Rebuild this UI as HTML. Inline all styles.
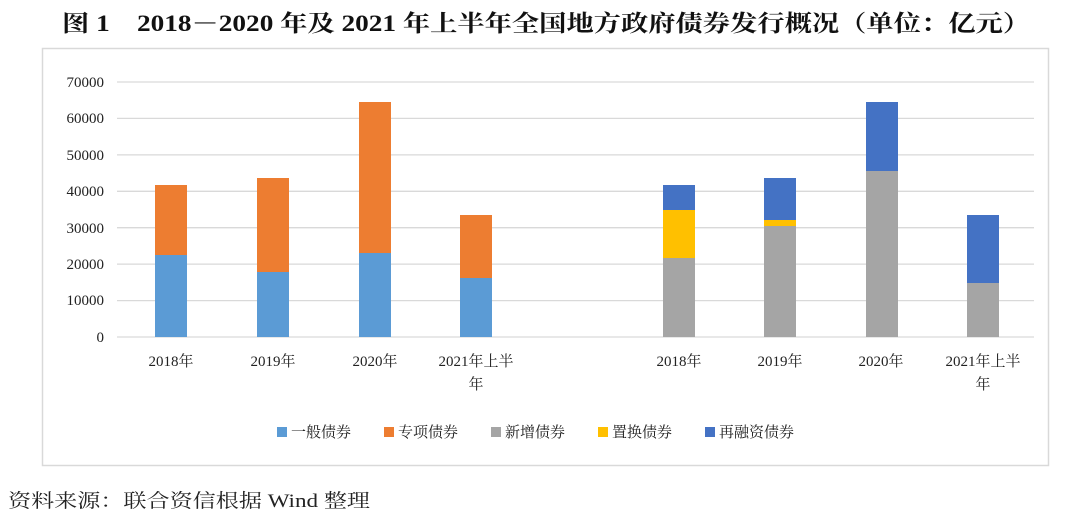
<!DOCTYPE html><html><head><meta charset="utf-8"><style>body{margin:0;background:#fff;width:1080px;height:521px;overflow:hidden}</style></head><body>
<svg width="1080" height="521" xmlns="http://www.w3.org/2000/svg" font-family="'Liberation Serif','Noto Serif CJK SC',serif">
<text x="62" y="31" font-size="23" font-weight="bold" fill="#111" textLength="968" lengthAdjust="spacingAndGlyphs">图 1　2018－2020 年及 2021 年上半年全国地方政府债券发行概况（单位：亿元）</text>
<rect x="42.5" y="48.5" width="1006" height="417" fill="#fff" stroke="#d9d9d9" stroke-width="1.5"/>
<g stroke="#d9d9d9" stroke-width="1.3">
<line x1="117" x2="1034" y1="82" y2="82"/><line x1="117" x2="1034" y1="118.4" y2="118.4"/><line x1="117" x2="1034" y1="154.9" y2="154.9"/><line x1="117" x2="1034" y1="191.3" y2="191.3"/><line x1="117" x2="1034" y1="227.7" y2="227.7"/><line x1="117" x2="1034" y1="264.1" y2="264.1"/><line x1="117" x2="1034" y1="300.6" y2="300.6"/><line x1="117" x2="1034" y1="337" y2="337"/></g>
<g font-size="15" fill="#222" text-anchor="end">
<text x="104" y="87">70000</text><text x="104" y="123">60000</text><text x="104" y="160">50000</text><text x="104" y="196">40000</text><text x="104" y="233">30000</text><text x="104" y="269">20000</text><text x="104" y="305">10000</text><text x="104" y="342">0</text></g>
<rect x="155" y="255" width="32" height="82" fill="#5b9bd5"/><rect x="155" y="185" width="32" height="70" fill="#ed7d31"/>
<rect x="257" y="272" width="32" height="65" fill="#5b9bd5"/><rect x="257" y="178" width="32" height="94" fill="#ed7d31"/>
<rect x="359" y="253" width="32" height="84" fill="#5b9bd5"/><rect x="359" y="102" width="32" height="151" fill="#ed7d31"/>
<rect x="460" y="278" width="32" height="59" fill="#5b9bd5"/><rect x="460" y="215" width="32" height="63" fill="#ed7d31"/>
<rect x="663" y="258" width="32" height="79" fill="#a5a5a5"/><rect x="663" y="210" width="32" height="48" fill="#ffc000"/><rect x="663" y="185" width="32" height="25" fill="#4472c4"/>
<rect x="764" y="226" width="32" height="111" fill="#a5a5a5"/><rect x="764" y="220" width="32" height="6" fill="#ffc000"/><rect x="764" y="178" width="32" height="42" fill="#4472c4"/>
<rect x="866" y="171" width="32" height="166" fill="#a5a5a5"/><rect x="866" y="102" width="32" height="69" fill="#4472c4"/>
<rect x="967" y="283" width="32" height="54" fill="#a5a5a5"/><rect x="967" y="215" width="32" height="68" fill="#4472c4"/>
<g font-size="15" fill="#222" text-anchor="middle">
<text x="171" y="366">2018年</text><text x="273" y="366">2019年</text><text x="375" y="366">2020年</text><text x="476" y="366">2021年上半</text><text x="476" y="389">年</text>
<text x="679" y="366">2018年</text><text x="780" y="366">2019年</text><text x="881" y="366">2020年</text><text x="983" y="366">2021年上半</text><text x="983" y="389">年</text></g>
<g font-size="15" fill="#222">
<rect x="277" y="427" width="10" height="10" fill="#5b9bd5"/><text x="291" y="437">一般债券</text>
<rect x="384" y="427" width="10" height="10" fill="#ed7d31"/><text x="398" y="437">专项债券</text>
<rect x="491" y="427" width="10" height="10" fill="#a5a5a5"/><text x="505" y="437">新增债券</text>
<rect x="598" y="427" width="10" height="10" fill="#ffc000"/><text x="612" y="437">置换债券</text>
<rect x="705" y="427" width="10" height="10" fill="#4472c4"/><text x="719" y="437">再融资债券</text></g>
<text x="8" y="507" font-size="19" fill="#222" textLength="362" lengthAdjust="spacingAndGlyphs">资料来源：联合资信根据 Wind 整理</text>
</svg></body></html>
